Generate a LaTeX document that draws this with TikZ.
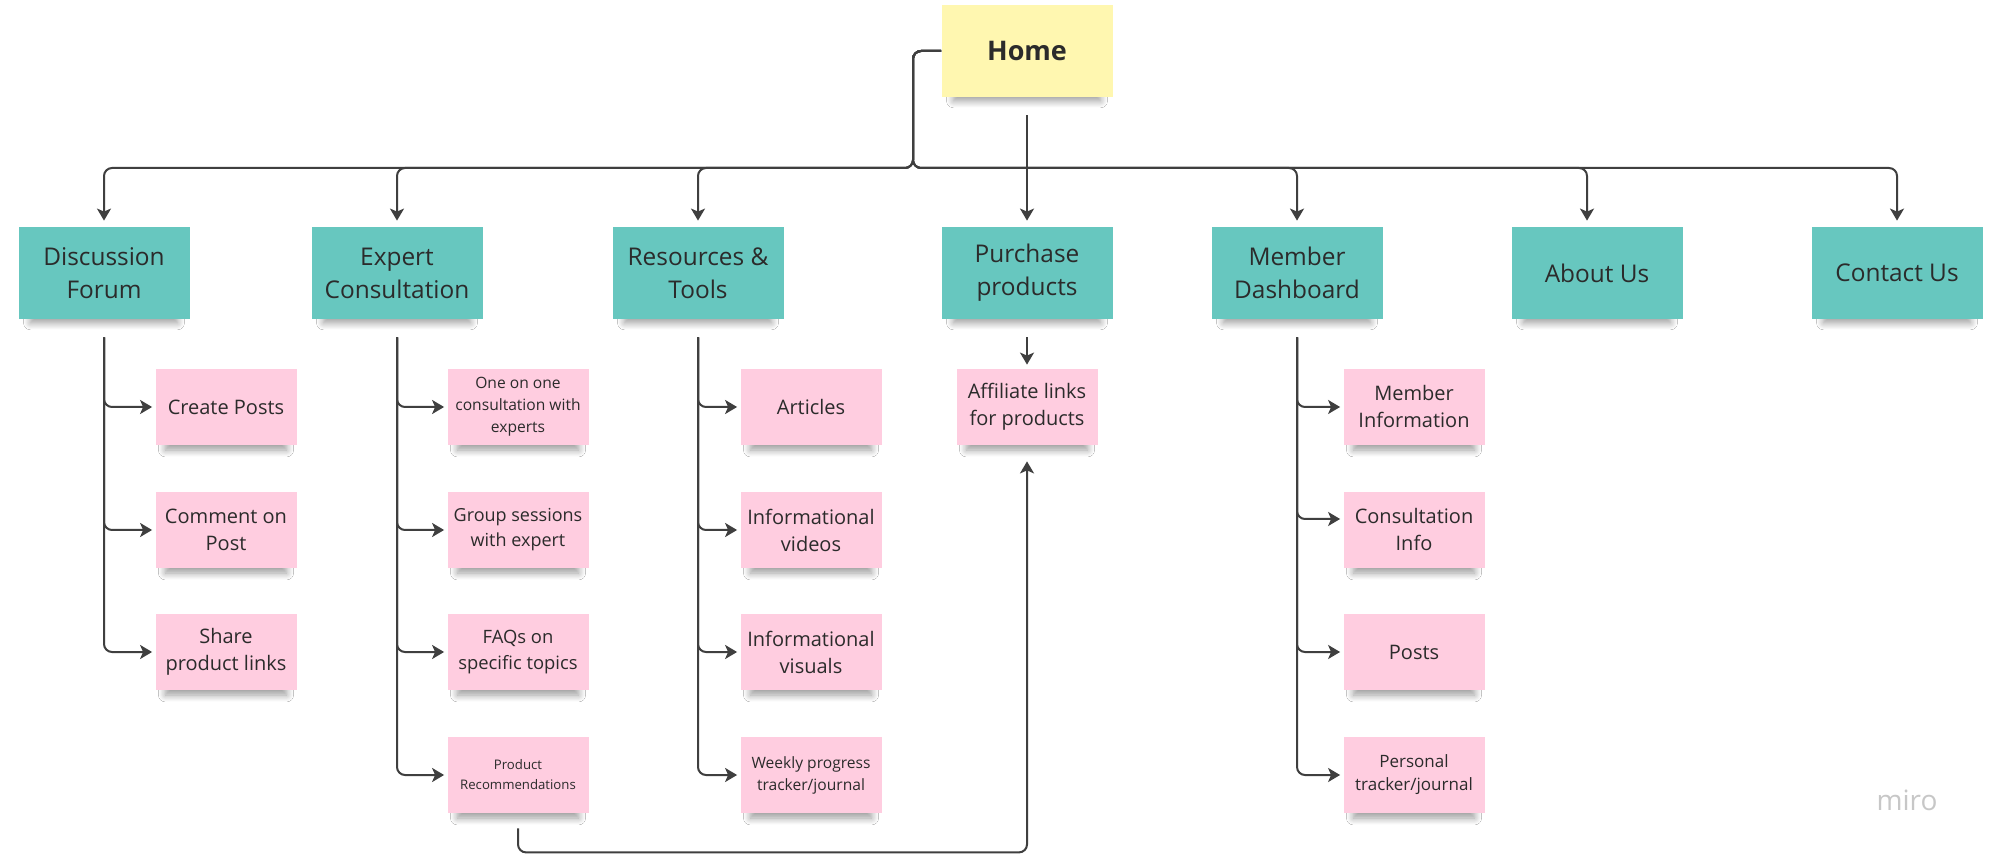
\documentclass[tikz,border=0pt]{standalone}
\usepackage{fontspec}
\setmainfont{Open Sans}
\usetikzlibrary{arrows.meta,shadows.blur}
\definecolor{stickyteal}{HTML}{67C7BF}
\definecolor{stickypink}{HTML}{FFCDE0}
\definecolor{stickyyellow}{HTML}{FFF7B0}
\definecolor{linegray}{HTML}{3F3F3F}
\definecolor{inkgray}{HTML}{2B2B2B}

\begin{document}
\begin{tikzpicture}[x=0.5pt, y=-0.5pt,
        sticky/.style={fill=#1, inner sep=0pt, align=center, text=inkgray,
            blur shadow={shadow xshift=0pt, shadow yshift=-6pt, shadow scale=0.86, shadow blur radius=4pt, shadow blur steps=12, shadow opacity=40}},
        sections/.style={sticky=stickyteal, minimum width=85.5pt, minimum height=46pt, font=\fontsize{12.2}{16.5}\selectfont},
        pages/.style={sticky=stickypink, minimum width=70.5pt, minimum height=38pt, font=\fontsize{10}{13.5}\selectfont},
        links/.style={draw=linegray, line width=1pt, rounded corners=4pt, -{Stealth[length=6pt,width=7pt,inset=1.5pt]}, shorten >=1.5pt}]
        
        \useasboundingbox[fill=white] (0,0) rectangle (2000,854);
        
        \node[sticky=stickyyellow, minimum width=85.5pt, minimum height=46pt, font=\fontsize{13.5}{16}\selectfont\bfseries] (home) at (1027,51) {Home};
        
        \node[sections] (forum) at (104,273) {Discussion\\Forum};
        \node[sections] (expert) at (397,273) {Expert\\Consultation};
        \node[sections] (resources) at (698,273) {Resources \&\\Tools};
        \node[sections] (purchase) at (1027,273) {Purchase\\products};
        \node[sections] (dashboard) at (1297,273) {Member\\Dashboard};
        \node[sections] (about) at (1597,273) {About Us};
        \node[sections] (contact) at (1897,273) {Contact Us};
        
        \node[pages] (posts) at (226,407) {Create Posts};
        \node[pages] (comment) at (226,530) {Comment on\\Post};
        \node[pages] (share) at (226,652) {Share\\product links};
        
        \node[pages, font=\fontsize{7.8}{11}\selectfont] (oneonone) at (518,407) {One on one\\consultation with\\experts};
        \node[pages, font=\fontsize{9}{12.5}\selectfont] (group) at (518,530) {Group sessions\\with expert};
        \node[pages, font=\fontsize{9.2}{13}\selectfont] (faqs) at (518,652) {FAQs on\\specific topics};
        \node[pages, font=\fontsize{6.6}{10}\selectfont] (recommend) at (518,775) {Product\\Recommendations};
        
        \node[pages] (articles) at (811,407) {Articles};
        \node[pages] (videos) at (811,530) {Informational\\videos};
        \node[pages] (visuals) at (811,652) {Informational\\visuals};
        \node[pages, font=\fontsize{7.8}{11}\selectfont] (weekly) at (811,775) {Weekly progress\\tracker/journal};
        
        \node[pages] (affiliate) at (1027,407) {Affiliate links\\for products};
        
        \node[pages] (info) at (1414,407) {Member\\Information};
        \node[pages] (consult) at (1414,530) {Consultation\\Info};
        \node[pages] (memberposts) at (1414,652) {Posts};
        \node[pages, font=\fontsize{8.5}{11.5}\selectfont] (tracker) at (1414,775) {Personal\\tracker/journal};
        
        \node[text=black!22, font=\fontsize{14}{14}\selectfont] (miro) at (1907,800) {miro};
        
        % home to sections
        \coordinate (split) at (913,168);
        \foreach \sec in {forum,expert,resources,dashboard,contact}
            \draw[links, shorten >=3pt] (home.west) -| (split) -| (\sec.north);
        \draw[links, shorten >=3pt] (home.west) -| (split) -| ([xshift=-5pt]about.north);
        \draw[links, shorten <=9pt, shorten >=3pt] (home.south) -- (purchase.north);
        
        % sections to pages
        \foreach \sec/\pg in {forum/posts, forum/comment, forum/share,
                expert/oneonone, expert/group, expert/faqs, expert/recommend,
                resources/articles, resources/videos, resources/visuals, resources/weekly,
                dashboard/info, dashboard/memberposts, dashboard/tracker}
            \draw[links, shorten <=9pt] (\sec.south) |- (\pg.west);
        \draw[links, shorten <=9pt] (dashboard.south) |- ([yshift=5.5pt]consult.west);
        \draw[links, shorten <=9pt, shorten >=2pt] (purchase.south) -- (affiliate.north);
        \draw[links, shorten <=7.5pt, shorten >=8pt] (recommend.south) -- ++(0,39) -| (affiliate.south);
        
    \end{tikzpicture}
\end{document}
